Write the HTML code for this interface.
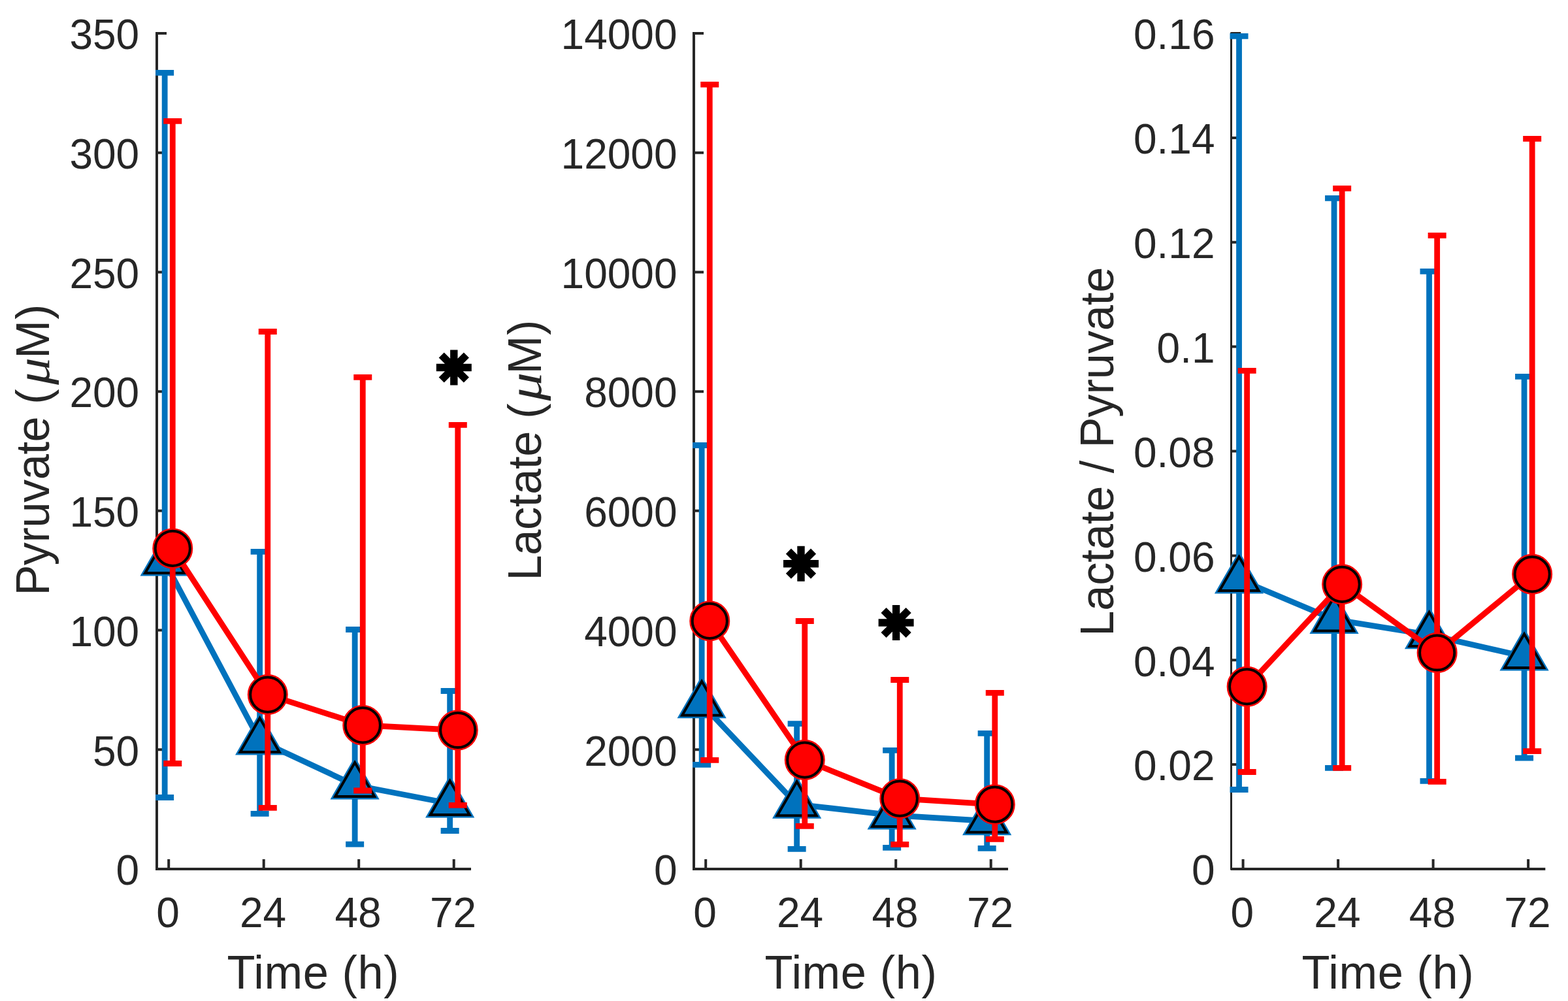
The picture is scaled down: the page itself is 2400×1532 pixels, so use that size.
<!DOCTYPE html>
<html><head><meta charset="utf-8"><title>Pyruvate, Lactate and Lactate/Pyruvate over time</title>
<style>
html,body{margin:0;padding:0;background:#fff;}
body{width:2400px;height:1532px;overflow:hidden;}
svg{display:block;}
.t{font-family:'Liberation Sans', Arial, sans-serif;font-size:64px;fill:#262626;}
.l{font-family:'Liberation Sans', Arial, sans-serif;font-size:70.4px;fill:#262626;}
.mu{font-family:'Liberation Serif',serif;font-style:italic;}
</style></head>
<body>
<svg width="2400" height="1532" viewBox="0 0 2400 1532">
<rect width="2400" height="1532" fill="#fff"/>
<path d="M240 51V1330" stroke="#262626" stroke-width="4" stroke-linecap="square"/>
<path d="M240 1330H719" stroke="#262626" stroke-width="4" stroke-linecap="square"/>
<path d="M240 1330H255M240 1147.29H255M240 964.57H255M240 781.86H255M240 599.14H255M240 416.43H255M240 233.71H255M240 51H255M258.2 1330V1315M403.7 1330V1315M549.2 1330V1315M694.7 1330V1315" stroke="#262626" stroke-width="4"/>
<text x="213.2" y="1354.3" text-anchor="end" class="t">0</text>
<text x="213.2" y="1171.59" text-anchor="end" class="t">50</text>
<text x="213.2" y="988.87" text-anchor="end" class="t">100</text>
<text x="213.2" y="806.16" text-anchor="end" class="t">150</text>
<text x="213.2" y="623.44" text-anchor="end" class="t">200</text>
<text x="213.2" y="440.73" text-anchor="end" class="t">250</text>
<text x="213.2" y="258.01" text-anchor="end" class="t">300</text>
<text x="213.2" y="75.3" text-anchor="end" class="t">350</text>
<text x="257" y="1419.2" text-anchor="middle" class="t">0</text>
<text x="402.5" y="1419.2" text-anchor="middle" class="t">24</text>
<text x="548" y="1419.2" text-anchor="middle" class="t">48</text>
<text x="693.5" y="1419.2" text-anchor="middle" class="t">72</text>
<text transform="translate(347.42 1512.5) scale(1 1.03)" class="l" textLength="263.19" lengthAdjust="spacing">Time (h)</text>
<g transform="translate(74.6 1000) rotate(-90) scale(1 1.03)" class="l"><text x="88.43" y="0" textLength="316.19" lengthAdjust="spacing">Pyruvate (</text><text transform="translate(411.08 0) scale(1.185 1)" class="mu">μ</text><text x="451.33" y="0" textLength="83.24" lengthAdjust="spacing">M)</text></g>
<path d="M252.14 111.4V1220.5M238.14 111.4H266.14M238.14 1220.5H266.14M397.64 844.3V1245.3M383.64 844.3H411.64M383.64 1245.3H411.64M543.14 963.5V1292.2M529.14 963.5H557.14M529.14 1292.2H557.14M688.64 1057.5V1271.5M674.64 1057.5H702.64M674.64 1271.5H702.64" stroke="#0072BD" stroke-width="8.8" fill="none"/>
<polyline points="252.14,859.7 397.64,1133.7 543.14,1201.7 688.64,1229.7" stroke="#0072BD" stroke-width="8.8" fill="none" stroke-linejoin="round"/>
<polygon points="252.14,825.06 282.14,877.02 222.14,877.02" fill="#0072BD" stroke="#0072BD" stroke-width="8.8" stroke-linejoin="miter"/>
<polygon points="397.64,1099.06 427.64,1151.02 367.64,1151.02" fill="#0072BD" stroke="#0072BD" stroke-width="8.8" stroke-linejoin="miter"/>
<polygon points="543.14,1167.06 573.14,1219.02 513.14,1219.02" fill="#0072BD" stroke="#0072BD" stroke-width="8.8" stroke-linejoin="miter"/>
<polygon points="688.64,1195.06 718.64,1247.02 658.64,1247.02" fill="#0072BD" stroke="#0072BD" stroke-width="8.8" stroke-linejoin="miter"/>
<polygon points="252.14,825.06 282.14,877.02 222.14,877.02" fill="#0072BD" stroke="#000" stroke-width="4" stroke-linejoin="miter"/>
<polygon points="397.64,1099.06 427.64,1151.02 367.64,1151.02" fill="#0072BD" stroke="#000" stroke-width="4" stroke-linejoin="miter"/>
<polygon points="543.14,1167.06 573.14,1219.02 513.14,1219.02" fill="#0072BD" stroke="#000" stroke-width="4" stroke-linejoin="miter"/>
<polygon points="688.64,1195.06 718.64,1247.02 658.64,1247.02" fill="#0072BD" stroke="#000" stroke-width="4" stroke-linejoin="miter"/>
<path d="M264.26 185.4V1168.5M250.26 185.4H278.26M250.26 1168.5H278.26M409.76 507.5V1236.4M395.76 507.5H423.76M395.76 1236.4H423.76M555.26 577.4V1210M541.26 577.4H569.26M541.26 1210H569.26M700.76 650.4V1232.4M686.76 650.4H714.76M686.76 1232.4H714.76" stroke="#FF0000" stroke-width="8.8" fill="none"/>
<polyline points="264.26,839.4 409.76,1063.1 555.26,1109.9 700.76,1117.5" stroke="#FF0000" stroke-width="8.8" fill="none" stroke-linejoin="round"/>
<circle cx="264.26" cy="839.4" r="26.6" fill="#FF0000" stroke="#FF0000" stroke-width="8.8"/>
<circle cx="409.76" cy="1063.1" r="26.6" fill="#FF0000" stroke="#FF0000" stroke-width="8.8"/>
<circle cx="555.26" cy="1109.9" r="26.6" fill="#FF0000" stroke="#FF0000" stroke-width="8.8"/>
<circle cx="700.76" cy="1117.5" r="26.6" fill="#FF0000" stroke="#FF0000" stroke-width="8.8"/>
<circle cx="264.26" cy="839.4" r="26.6" fill="#FF0000" stroke="#000" stroke-width="4"/>
<circle cx="409.76" cy="1063.1" r="26.6" fill="#FF0000" stroke="#000" stroke-width="4"/>
<circle cx="555.26" cy="1109.9" r="26.6" fill="#FF0000" stroke="#000" stroke-width="4"/>
<circle cx="700.76" cy="1117.5" r="26.6" fill="#FF0000" stroke="#000" stroke-width="4"/>
<path d="M667.8 562.5H721.8 M694.8 535.5V589.5 M675.71 543.41L713.89 581.59 M675.71 581.59L713.89 543.41" stroke="#000" stroke-width="11.4" fill="none"/>
<path d="M1062 51V1330" stroke="#262626" stroke-width="4" stroke-linecap="square"/>
<path d="M1062 1330H1541" stroke="#262626" stroke-width="4" stroke-linecap="square"/>
<path d="M1062 1330H1077M1062 1147.29H1077M1062 964.57H1077M1062 781.86H1077M1062 599.14H1077M1062 416.43H1077M1062 233.71H1077M1062 51H1077M1080.2 1330V1315M1225.7 1330V1315M1371.2 1330V1315M1516.7 1330V1315" stroke="#262626" stroke-width="4"/>
<text x="1036.5" y="1354.3" text-anchor="end" class="t">0</text>
<text x="1036.5" y="1171.59" text-anchor="end" class="t">2000</text>
<text x="1036.5" y="988.87" text-anchor="end" class="t">4000</text>
<text x="1036.5" y="806.16" text-anchor="end" class="t">6000</text>
<text x="1036.5" y="623.44" text-anchor="end" class="t">8000</text>
<text x="1036.5" y="440.73" text-anchor="end" class="t">10000</text>
<text x="1036.5" y="258.01" text-anchor="end" class="t">12000</text>
<text x="1036.5" y="75.3" text-anchor="end" class="t">14000</text>
<text x="1079" y="1419.2" text-anchor="middle" class="t">0</text>
<text x="1224.5" y="1419.2" text-anchor="middle" class="t">24</text>
<text x="1370" y="1419.2" text-anchor="middle" class="t">48</text>
<text x="1515.5" y="1419.2" text-anchor="middle" class="t">72</text>
<text transform="translate(1170.42 1512.5) scale(1 1.03)" class="l" textLength="263.44" lengthAdjust="spacing">Time (h)</text>
<g transform="translate(827.7 1000) rotate(-90) scale(1 1.03)" class="l"><text x="111.52" y="0" textLength="271.09" lengthAdjust="spacing">Lactate (</text><text transform="translate(386.49 0) scale(1.231 1)" class="mu">μ</text><text x="427.52" y="0" textLength="82.94" lengthAdjust="spacing">M)</text></g>
<path d="M1074.14 681.5V1170.4M1060.14 681.5H1088.14M1060.14 1170.4H1088.14M1219.64 1107.7V1299.4M1205.64 1107.7H1233.64M1205.64 1299.4H1233.64M1365.14 1148.4V1297.3M1351.14 1148.4H1379.14M1351.14 1297.3H1379.14M1510.64 1122.4V1298.4M1496.64 1122.4H1524.64M1496.64 1298.4H1524.64" stroke="#0072BD" stroke-width="8.8" fill="none"/>
<polyline points="1074.14,1077.5 1219.64,1231 1365.14,1247.7 1510.64,1256.5" stroke="#0072BD" stroke-width="8.8" fill="none" stroke-linejoin="round"/>
<polygon points="1074.14,1042.86 1104.14,1094.82 1044.14,1094.82" fill="#0072BD" stroke="#0072BD" stroke-width="8.8" stroke-linejoin="miter"/>
<polygon points="1219.64,1196.36 1249.64,1248.32 1189.64,1248.32" fill="#0072BD" stroke="#0072BD" stroke-width="8.8" stroke-linejoin="miter"/>
<polygon points="1365.14,1213.06 1395.14,1265.02 1335.14,1265.02" fill="#0072BD" stroke="#0072BD" stroke-width="8.8" stroke-linejoin="miter"/>
<polygon points="1510.64,1221.86 1540.64,1273.82 1480.64,1273.82" fill="#0072BD" stroke="#0072BD" stroke-width="8.8" stroke-linejoin="miter"/>
<polygon points="1074.14,1042.86 1104.14,1094.82 1044.14,1094.82" fill="#0072BD" stroke="#000" stroke-width="4" stroke-linejoin="miter"/>
<polygon points="1219.64,1196.36 1249.64,1248.32 1189.64,1248.32" fill="#0072BD" stroke="#000" stroke-width="4" stroke-linejoin="miter"/>
<polygon points="1365.14,1213.06 1395.14,1265.02 1335.14,1265.02" fill="#0072BD" stroke="#000" stroke-width="4" stroke-linejoin="miter"/>
<polygon points="1510.64,1221.86 1540.64,1273.82 1480.64,1273.82" fill="#0072BD" stroke="#000" stroke-width="4" stroke-linejoin="miter"/>
<path d="M1086.26 129.4V1163.4M1072.26 129.4H1100.26M1072.26 1163.4H1100.26M1231.76 950.5V1264.3M1217.76 950.5H1245.76M1217.76 1264.3H1245.76M1377.26 1040.5V1292.3M1363.26 1040.5H1391.26M1363.26 1292.3H1391.26M1522.76 1060.4V1284.4M1508.76 1060.4H1536.76M1508.76 1284.4H1536.76" stroke="#FF0000" stroke-width="8.8" fill="none"/>
<polyline points="1086.26,950.4 1231.76,1163.1 1377.26,1222.2 1522.76,1231.2" stroke="#FF0000" stroke-width="8.8" fill="none" stroke-linejoin="round"/>
<circle cx="1086.26" cy="950.4" r="26.6" fill="#FF0000" stroke="#FF0000" stroke-width="8.8"/>
<circle cx="1231.76" cy="1163.1" r="26.6" fill="#FF0000" stroke="#FF0000" stroke-width="8.8"/>
<circle cx="1377.26" cy="1222.2" r="26.6" fill="#FF0000" stroke="#FF0000" stroke-width="8.8"/>
<circle cx="1522.76" cy="1231.2" r="26.6" fill="#FF0000" stroke="#FF0000" stroke-width="8.8"/>
<circle cx="1086.26" cy="950.4" r="26.6" fill="#FF0000" stroke="#000" stroke-width="4"/>
<circle cx="1231.76" cy="1163.1" r="26.6" fill="#FF0000" stroke="#000" stroke-width="4"/>
<circle cx="1377.26" cy="1222.2" r="26.6" fill="#FF0000" stroke="#000" stroke-width="4"/>
<circle cx="1522.76" cy="1231.2" r="26.6" fill="#FF0000" stroke="#000" stroke-width="4"/>
<path d="M1199 862.7H1253 M1226 835.7V889.7 M1206.91 843.61L1245.09 881.79 M1206.91 881.79L1245.09 843.61" stroke="#000" stroke-width="11.4" fill="none"/>
<path d="M1344.6 953H1398.6 M1371.6 926V980 M1352.51 933.91L1390.69 972.09 M1352.51 972.09L1390.69 933.91" stroke="#000" stroke-width="11.4" fill="none"/>
<path d="M1884.5 51V1330" stroke="#262626" stroke-width="3" stroke-linecap="square"/>
<path d="M1886 1330H2363.3" stroke="#262626" stroke-width="4" stroke-linecap="square"/>
<path d="M1884.3 1330H1899.3M1884.3 1170.12H1899.3M1884.3 1010.25H1899.3M1884.3 850.38H1899.3M1884.3 690.5H1899.3M1884.3 530.62H1899.3M1884.3 370.75H1899.3M1884.3 210.88H1899.3M1884.3 51H1899.3M1902.6 1330V1315M2048.1 1330V1315M2193.6 1330V1315M2339.1 1330V1315" stroke="#262626" stroke-width="4"/>
<text x="1859.5" y="1354.3" text-anchor="end" class="t">0</text>
<text x="1859.5" y="1194.42" text-anchor="end" class="t">0.02</text>
<text x="1859.5" y="1034.55" text-anchor="end" class="t">0.04</text>
<text x="1859.5" y="874.67" text-anchor="end" class="t">0.06</text>
<text x="1859.5" y="714.8" text-anchor="end" class="t">0.08</text>
<text x="1859.5" y="554.92" text-anchor="end" class="t">0.1</text>
<text x="1859.5" y="395.05" text-anchor="end" class="t">0.12</text>
<text x="1859.5" y="235.18" text-anchor="end" class="t">0.14</text>
<text x="1859.5" y="75.3" text-anchor="end" class="t">0.16</text>
<text x="1901.4" y="1419.2" text-anchor="middle" class="t">0</text>
<text x="2046.9" y="1419.2" text-anchor="middle" class="t">24</text>
<text x="2192.4" y="1419.2" text-anchor="middle" class="t">48</text>
<text x="2337.9" y="1419.2" text-anchor="middle" class="t">72</text>
<text transform="translate(1992.42 1512.5) scale(1 1.03)" class="l" textLength="263.24" lengthAdjust="spacing">Time (h)</text>
<g transform="translate(1703.7 1000) rotate(-90) scale(1 1.03)" class="l"><text x="26.23" y="0" textLength="565.2" lengthAdjust="spacing">Lactate / Pyruvate</text></g>
<path d="M1896.54 55.4V1208.5M1882.54 55.4H1910.54M1882.54 1208.5H1910.54M2042.04 303.4V1175.3M2028.04 303.4H2056.04M2028.04 1175.3H2056.04M2187.54 415.4V1195.4M2173.54 415.4H2201.54M2173.54 1195.4H2201.54M2333.04 576.3V1160.2M2319.04 576.3H2347.04M2319.04 1160.2H2347.04" stroke="#0072BD" stroke-width="8.8" fill="none"/>
<polyline points="1896.54,886.8 2042.04,948.2 2187.54,971.6 2333.04,1004.8" stroke="#0072BD" stroke-width="8.8" fill="none" stroke-linejoin="round"/>
<polygon points="1896.54,852.16 1926.54,904.12 1866.54,904.12" fill="#0072BD" stroke="#0072BD" stroke-width="8.8" stroke-linejoin="miter"/>
<polygon points="2042.04,913.56 2072.04,965.52 2012.04,965.52" fill="#0072BD" stroke="#0072BD" stroke-width="8.8" stroke-linejoin="miter"/>
<polygon points="2187.54,936.96 2217.54,988.92 2157.54,988.92" fill="#0072BD" stroke="#0072BD" stroke-width="8.8" stroke-linejoin="miter"/>
<polygon points="2333.04,970.16 2363.04,1022.12 2303.04,1022.12" fill="#0072BD" stroke="#0072BD" stroke-width="8.8" stroke-linejoin="miter"/>
<polygon points="1896.54,852.16 1926.54,904.12 1866.54,904.12" fill="#0072BD" stroke="#000" stroke-width="4" stroke-linejoin="miter"/>
<polygon points="2042.04,913.56 2072.04,965.52 2012.04,965.52" fill="#0072BD" stroke="#000" stroke-width="4" stroke-linejoin="miter"/>
<polygon points="2187.54,936.96 2217.54,988.92 2157.54,988.92" fill="#0072BD" stroke="#000" stroke-width="4" stroke-linejoin="miter"/>
<polygon points="2333.04,970.16 2363.04,1022.12 2303.04,1022.12" fill="#0072BD" stroke="#000" stroke-width="4" stroke-linejoin="miter"/>
<path d="M1908.66 567.4V1181.5M1894.66 567.4H1922.66M1894.66 1181.5H1922.66M2054.16 288.4V1175.3M2040.16 288.4H2068.16M2040.16 1175.3H2068.16M2199.66 360.4V1196.4M2185.66 360.4H2213.66M2185.66 1196.4H2213.66M2345.16 212.3V1149.6M2331.16 212.3H2359.16M2331.16 1149.6H2359.16" stroke="#FF0000" stroke-width="8.8" fill="none"/>
<polyline points="1908.66,1050.8 2054.16,894.3 2199.66,999 2345.16,878.8" stroke="#FF0000" stroke-width="8.8" fill="none" stroke-linejoin="round"/>
<circle cx="1908.66" cy="1050.8" r="26.6" fill="#FF0000" stroke="#FF0000" stroke-width="8.8"/>
<circle cx="2054.16" cy="894.3" r="26.6" fill="#FF0000" stroke="#FF0000" stroke-width="8.8"/>
<circle cx="2199.66" cy="999" r="26.6" fill="#FF0000" stroke="#FF0000" stroke-width="8.8"/>
<circle cx="2345.16" cy="878.8" r="26.6" fill="#FF0000" stroke="#FF0000" stroke-width="8.8"/>
<circle cx="1908.66" cy="1050.8" r="26.6" fill="#FF0000" stroke="#000" stroke-width="4"/>
<circle cx="2054.16" cy="894.3" r="26.6" fill="#FF0000" stroke="#000" stroke-width="4"/>
<circle cx="2199.66" cy="999" r="26.6" fill="#FF0000" stroke="#000" stroke-width="4"/>
<circle cx="2345.16" cy="878.8" r="26.6" fill="#FF0000" stroke="#000" stroke-width="4"/>
</svg>
</body></html>
